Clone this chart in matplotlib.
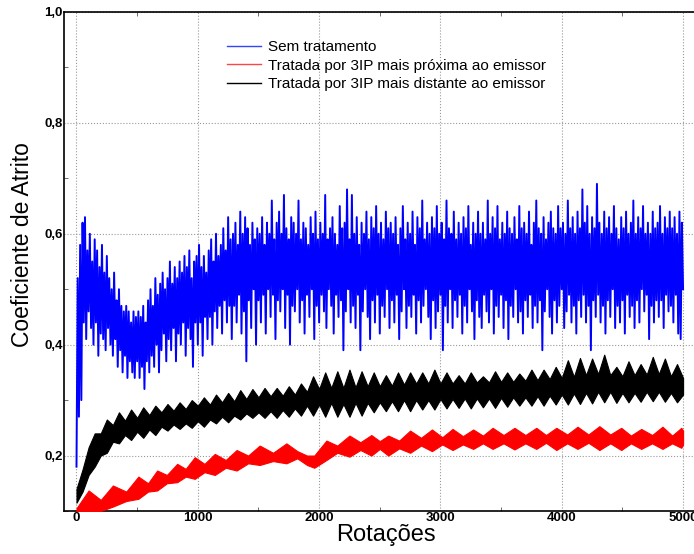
import numpy as np
import matplotlib
matplotlib.use('Agg')
import matplotlib.pyplot as plt
from matplotlib.lines import Line2D
from matplotlib.ticker import MultipleLocator, FuncFormatter

# Sem tratamento: trace read every 10 rotations (one row = 100 rotations)
blue_step = 10
blue_vals = [
    0.18, 0.52, 0.27, 0.58, 0.30, 0.62, 0.44, 0.63, 0.41, 0.57,
    0.46, 0.60, 0.43, 0.55, 0.40, 0.59, 0.44, 0.57, 0.38, 0.54,
    0.42, 0.58, 0.41, 0.53, 0.39, 0.56, 0.43, 0.52, 0.40, 0.50,
    0.38, 0.53, 0.41, 0.48, 0.36, 0.50, 0.39, 0.47, 0.35, 0.46,
    0.38, 0.47, 0.34, 0.46, 0.37, 0.44, 0.35, 0.46, 0.34, 0.45,
    0.37, 0.46, 0.34, 0.45, 0.36, 0.47, 0.32, 0.44, 0.37, 0.48,
    0.35, 0.50, 0.38, 0.47, 0.36, 0.52, 0.40, 0.49, 0.35, 0.51,
    0.39, 0.53, 0.42, 0.50, 0.37, 0.52, 0.41, 0.55, 0.39, 0.51,
    0.43, 0.54, 0.37, 0.52, 0.42, 0.55, 0.40, 0.53, 0.44, 0.56,
    0.38, 0.54, 0.43, 0.57, 0.41, 0.52, 0.36, 0.55, 0.44, 0.56,
    0.40, 0.58, 0.44, 0.54, 0.38, 0.56, 0.45, 0.53, 0.41, 0.57,
    0.45, 0.59, 0.40, 0.55, 0.46, 0.60, 0.43, 0.56, 0.47, 0.58,
    0.42, 0.61, 0.48, 0.57, 0.44, 0.63, 0.47, 0.59, 0.41, 0.60,
    0.47, 0.62, 0.44, 0.58, 0.49, 0.64, 0.42, 0.60, 0.46, 0.63,
    0.37, 0.61, 0.48, 0.58, 0.43, 0.62, 0.50, 0.59, 0.40, 0.61,
    0.48, 0.60, 0.44, 0.63, 0.49, 0.58, 0.42, 0.62, 0.50, 0.60,
    0.45, 0.66, 0.49, 0.59, 0.41, 0.62, 0.48, 0.64, 0.46, 0.60,
    0.50, 0.67, 0.43, 0.61, 0.49, 0.59, 0.40, 0.63, 0.47, 0.62,
    0.46, 0.60, 0.50, 0.66, 0.44, 0.59, 0.48, 0.62, 0.42, 0.61,
    0.49, 0.58, 0.45, 0.63, 0.50, 0.60, 0.41, 0.64, 0.47, 0.59,
    0.44, 0.62, 0.49, 0.60, 0.46, 0.67, 0.43, 0.59, 0.50, 0.61,
    0.47, 0.63, 0.42, 0.60, 0.49, 0.58, 0.45, 0.65, 0.48, 0.61,
    0.39, 0.62, 0.46, 0.68, 0.50, 0.59, 0.44, 0.67, 0.47, 0.60,
    0.43, 0.63, 0.49, 0.58, 0.39, 0.62, 0.46, 0.60, 0.50, 0.64,
    0.45, 0.59, 0.41, 0.63, 0.48, 0.61, 0.44, 0.65, 0.49, 0.60,
    0.42, 0.62, 0.47, 0.59, 0.45, 0.64, 0.50, 0.61, 0.43, 0.62,
    0.48, 0.60, 0.44, 0.63, 0.49, 0.58, 0.41, 0.61, 0.46, 0.65,
    0.50, 0.59, 0.43, 0.62, 0.47, 0.60, 0.45, 0.64, 0.49, 0.58,
    0.42, 0.63, 0.48, 0.61, 0.44, 0.66, 0.47, 0.59, 0.50, 0.62,
    0.45, 0.60, 0.41, 0.63, 0.48, 0.61, 0.43, 0.65, 0.46, 0.60,
    0.49, 0.62, 0.39, 0.59, 0.47, 0.66, 0.44, 0.61, 0.50, 0.60,
    0.43, 0.64, 0.48, 0.59, 0.45, 0.62, 0.49, 0.60, 0.42, 0.63,
    0.47, 0.61, 0.44, 0.65, 0.50, 0.58, 0.46, 0.62, 0.41, 0.60,
    0.48, 0.64, 0.45, 0.60, 0.43, 0.62, 0.49, 0.59, 0.46, 0.66,
    0.44, 0.60, 0.50, 0.63, 0.42, 0.61, 0.47, 0.65, 0.45, 0.59,
    0.49, 0.62, 0.43, 0.60, 0.48, 0.64, 0.41, 0.61, 0.47, 0.60,
    0.45, 0.63, 0.50, 0.59, 0.44, 0.65, 0.46, 0.61, 0.42, 0.62,
    0.48, 0.60, 0.45, 0.64, 0.49, 0.58, 0.43, 0.62, 0.47, 0.66,
    0.44, 0.61, 0.48, 0.60, 0.39, 0.63, 0.46, 0.59, 0.50, 0.62,
    0.45, 0.64, 0.42, 0.61, 0.48, 0.60, 0.44, 0.65, 0.47, 0.61,
    0.50, 0.62, 0.43, 0.60, 0.46, 0.66, 0.49, 0.61, 0.44, 0.63,
    0.47, 0.60, 0.42, 0.64, 0.48, 0.61, 0.45, 0.68, 0.49, 0.62,
    0.44, 0.65, 0.47, 0.60, 0.39, 0.63, 0.48, 0.61, 0.45, 0.69,
    0.49, 0.62, 0.44, 0.60, 0.47, 0.64, 0.42, 0.61, 0.48, 0.63,
    0.45, 0.60, 0.50, 0.65, 0.43, 0.61, 0.47, 0.59, 0.44, 0.63,
    0.48, 0.61, 0.42, 0.64, 0.49, 0.60, 0.45, 0.62, 0.47, 0.66,
    0.43, 0.60, 0.48, 0.63, 0.44, 0.61, 0.50, 0.65, 0.46, 0.60,
    0.49, 0.62, 0.41, 0.60, 0.47, 0.64, 0.44, 0.61, 0.48, 0.62,
    0.45, 0.65, 0.48, 0.60, 0.43, 0.63, 0.49, 0.61, 0.46, 0.64,
    0.47, 0.61, 0.44, 0.63, 0.49, 0.60, 0.42, 0.64, 0.41, 0.62,
    0.50,
]

# Tratada mais distante: band edges read every 50 rotations (neck / bulge)
black_step = 50
black_lo = [
    0.115, 0.135, 0.165, 0.180, 0.200, 0.205, 0.225, 0.222, 0.237, 0.228,
    0.243, 0.232, 0.247, 0.237, 0.252, 0.245, 0.256, 0.248, 0.258, 0.250,
    0.262, 0.252, 0.265, 0.258, 0.270, 0.260, 0.272, 0.265, 0.276, 0.268,
    0.278, 0.268, 0.280, 0.268, 0.282, 0.270, 0.285, 0.272, 0.290, 0.272,
    0.292, 0.270, 0.295, 0.270, 0.293, 0.270, 0.295, 0.272, 0.295, 0.278,
    0.296, 0.280, 0.298, 0.280, 0.300, 0.280, 0.300, 0.283, 0.300, 0.283,
    0.302, 0.285, 0.302, 0.286, 0.303, 0.285, 0.303, 0.287, 0.303, 0.286,
    0.304, 0.288, 0.305, 0.290, 0.305, 0.290, 0.307, 0.290, 0.308, 0.292,
    0.310, 0.292, 0.312, 0.293, 0.313, 0.294, 0.315, 0.296, 0.315, 0.295,
    0.313, 0.296, 0.313, 0.297, 0.315, 0.298, 0.315, 0.297, 0.313, 0.296,
    0.310,
]
black_hi = [
    0.140, 0.175, 0.215, 0.240, 0.240, 0.265, 0.255, 0.278, 0.263, 0.283,
    0.268, 0.287, 0.273, 0.290, 0.278, 0.293, 0.281, 0.296, 0.284, 0.300,
    0.290, 0.305, 0.292, 0.310, 0.296, 0.313, 0.298, 0.318, 0.302, 0.320,
    0.305, 0.322, 0.307, 0.322, 0.308, 0.325, 0.310, 0.330, 0.315, 0.343,
    0.320, 0.350, 0.322, 0.352, 0.322, 0.355, 0.323, 0.352, 0.325, 0.350,
    0.325, 0.345, 0.326, 0.350, 0.328, 0.350, 0.330, 0.350, 0.330, 0.355,
    0.330, 0.350, 0.330, 0.345, 0.330, 0.350, 0.332, 0.343, 0.332, 0.352,
    0.333, 0.350, 0.333, 0.348, 0.335, 0.355, 0.336, 0.355, 0.338, 0.360,
    0.340, 0.372, 0.342, 0.376, 0.345, 0.375, 0.347, 0.382, 0.345, 0.360,
    0.343, 0.370, 0.345, 0.365, 0.346, 0.378, 0.347, 0.375, 0.343, 0.365,
    0.340,
]

# Tratada mais proxima: band edges at lobe bulges and necks
red_x = [
    0, 100, 200, 300, 410, 510, 590, 665, 745, 830,
    900, 975, 1055, 1140, 1230, 1320, 1415, 1510, 1620, 1730,
    1820, 1900, 1960, 2060, 2150, 2250, 2340, 2430, 2500, 2570,
    2660, 2750, 2840, 2930, 3015, 3100, 3185, 3270, 3350, 3430,
    3520, 3610, 3700, 3790, 3870, 3955, 4045, 4130, 4220, 4310,
    4400, 4490, 4570, 4655, 4745, 4830, 4910, 4985, 5000,
]
red_lo = [
    0.090, 0.090, 0.100, 0.108, 0.118, 0.122, 0.135, 0.137, 0.150, 0.152,
    0.162, 0.158, 0.170, 0.165, 0.178, 0.173, 0.186, 0.183, 0.190, 0.186,
    0.195, 0.183, 0.178, 0.192, 0.205, 0.198, 0.210, 0.200, 0.212, 0.200,
    0.213, 0.205, 0.218, 0.208, 0.220, 0.210, 0.220, 0.212, 0.222, 0.212,
    0.222, 0.211, 0.222, 0.212, 0.223, 0.210, 0.222, 0.212, 0.223, 0.210,
    0.222, 0.210, 0.222, 0.212, 0.222, 0.212, 0.222, 0.214, 0.220,
]
red_hi = [
    0.105, 0.137, 0.120, 0.146, 0.135, 0.162, 0.150, 0.173, 0.165, 0.185,
    0.176, 0.197, 0.185, 0.203, 0.192, 0.210, 0.200, 0.218, 0.205, 0.222,
    0.208, 0.200, 0.200, 0.227, 0.218, 0.236, 0.224, 0.237, 0.226, 0.236,
    0.227, 0.245, 0.232, 0.247, 0.233, 0.248, 0.235, 0.247, 0.236, 0.250,
    0.237, 0.250, 0.237, 0.250, 0.237, 0.250, 0.238, 0.252, 0.238, 0.253,
    0.238, 0.250, 0.236, 0.248, 0.237, 0.252, 0.236, 0.250, 0.245,
]

labels = ['Sem tratamento',
          'Tratada por 3IP mais próxima ao emissor',
          'Tratada por 3IP mais distante ao emissor']

plt.rcParams['font.family'] = ['Liberation Sans', 'DejaVu Sans']

blue_x = np.arange(len(blue_vals)) * blue_step
black_x = np.arange(len(black_lo)) * black_step

fig = plt.figure(figsize=(6.94, 5.54), dpi=100)
ax = fig.add_axes([64 / 694, 43 / 554, 630 / 694, 499 / 554])

ax.plot(blue_x, blue_vals, color='#0000ff', lw=1.4, zorder=3)
ax.fill_between(black_x, black_lo, black_hi, facecolor='black',
                edgecolor='black', lw=0.8, zorder=3)
ax.fill_between(red_x, red_lo, red_hi, facecolor='#ff0000',
                edgecolor='#ff0000', lw=0.8, zorder=3)

ax.set_xlim(-103, 5090)
ax.set_ylim(0.1, 1.0)

ax.xaxis.set_major_locator(MultipleLocator(1000))
ax.xaxis.set_minor_locator(MultipleLocator(500))
ax.yaxis.set_major_locator(MultipleLocator(0.2))
ax.yaxis.set_minor_locator(MultipleLocator(0.1))
ax.yaxis.set_major_formatter(FuncFormatter(lambda v, p: f'{v:.1f}'.replace('.', ',')))
ax.xaxis.set_major_formatter(FuncFormatter(lambda v, p: f'{v:.0f}'))

ax.tick_params(which='both', direction='in', top=True, pad=1)
ax.tick_params(which='major', length=0)
ax.tick_params(which='minor', length=3, width=0.6, color='#555555')
for lab in ax.get_xticklabels() + ax.get_yticklabels():
    lab.set_fontweight('bold')
    lab.set_fontsize(9.5)

ax.grid(True, which='major', linestyle=':', color='#999999', lw=0.8, zorder=0)
ax.spines['right'].set_visible(False)
for s in ['left', 'bottom', 'top']:
    ax.spines[s].set_linewidth(1.2)

ax.set_ylabel('Coeficiente de Atrito', fontsize=16.5)
ax.yaxis.set_label_coords(-0.048, 0.533)
ax.set_xlabel('Rotações', fontsize=17)
ax.xaxis.set_label_coords(0.511, -0.026)

handles = [Line2D([], [], color='#3344ff', lw=1),
           Line2D([], [], color='#ff4444', lw=1),
           Line2D([], [], color='black', lw=1)]
ax.legend(handles, labels, loc='upper left',
          bbox_to_anchor=((227 - 64) / 630, (511 - 40) / 499),
          frameon=False, fontsize=11, handlelength=2.2, handletextpad=0.5,
          labelspacing=0.3, borderpad=0, borderaxespad=0)

fig.savefig('out.png', dpi=100)
